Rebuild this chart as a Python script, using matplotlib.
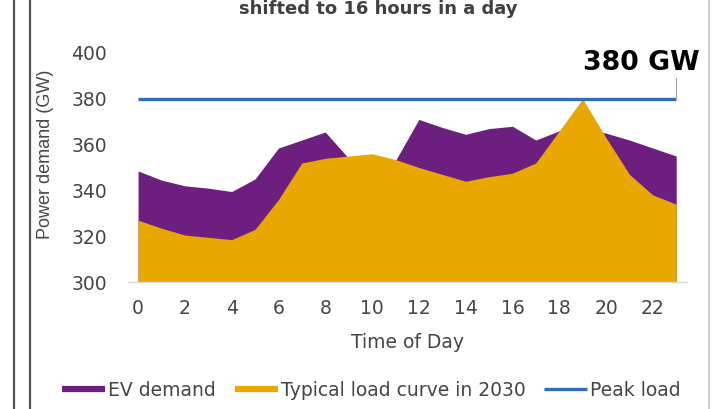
import matplotlib
matplotlib.use("Agg")
from matplotlib import pyplot as plt
from matplotlib.lines import Line2D

plt.rcParams["font.family"] = ["DejaVu Sans"]

# hourly values (GW)
hours = list(range(24))
load_2030 = [327, 323.5, 320.5, 319.5, 318.5, 323, 336, 352, 354, 355, 356, 353.5,
             350, 347, 344, 346, 347.5, 352, 366, 380, 363, 347, 338, 334]
with_ev = [348.5, 344.5, 342, 341, 339.5, 345, 358.5, 362, 365.5, 354, 352, 353,
           371, 367.5, 364.5, 367, 368, 362, 366, 367, 365, 362, 358.5, 355]
peak_load = 380
xticks = list(range(0, 23, 2))
yticks = [300, 320, 340, 360, 380, 400]

purple = "#6d1f80"
yellow = "#e9a800"
blue = "#2f6db5"
grey = "#454545"

fig = plt.figure(figsize=(7.21, 4.09), dpi=100)
W, H = 721, 409
ax = fig.add_axes([128 / W, 1 - 282 / H, (687 - 128) / W, (282 - 53) / H])

ax.fill_between(hours, 300, with_ev, color=purple, lw=0)
ax.fill_between(hours, 300, load_2030, color=yellow, lw=0)
ax.plot(hours, [peak_load] * len(hours), color=blue, lw=2.4, solid_capstyle="butt")

ax.set_xlim(-0.43, 23.46)
ax.set_ylim(300, 400)
ax.set_xticks(xticks)
ax.set_yticks(yticks)
ax.tick_params(axis="both", length=0, labelsize=13.5, labelcolor=grey)
ax.tick_params(axis="y", pad=15)
ax.tick_params(axis="x", pad=12)
for s in ["top", "right", "left"]:
    ax.spines[s].set_visible(False)
ax.spines["bottom"].set_color("#d9d9d9")
ax.spines["bottom"].set_linewidth(1)

ax.set_xlabel("Time of Day", fontsize=13.5, color=grey)
ax.xaxis.set_label_coords(0.5, (282 - 333) / 229)
ax.set_ylabel("Power demand (GW)", fontsize=13, color=grey, family="Liberation Sans")
ax.yaxis.set_label_coords((54 - 128) / 559, (282 - 154) / 229)

# peak annotation with a small leader line
ax.plot([hours[-1], hours[-1]], [peak_load, peak_load + 9], color="#a6a6a6", lw=0.8, clip_on=False)
fig.text(583 / W, 1 - 63 / H, f"{peak_load} GW", fontsize=19.3, fontweight="bold",
         color="black", ha="left", va="center")

# cut-off title at the top
fig.text(378 / W, 1 - 14 / H, "shifted to 16 hours in a day", fontsize=13,
         fontweight="bold", color="#404040", ha="center", va="baseline")

# page border lines
fig.add_artist(Line2D([14 / W, 14 / W], [0, 1], color="#555555", lw=1.6))
fig.add_artist(Line2D([30 / W, 30 / W], [0, 1], color="#555555", lw=1.6))
fig.add_artist(Line2D([709 / W, 709 / W], [0, 1], color="#d0d0d0", lw=1.5))

handles = [Line2D([], [], color=purple, lw=4.5, solid_capstyle="butt"),
           Line2D([], [], color=yellow, lw=4.5, solid_capstyle="butt"),
           Line2D([], [], color=blue, lw=2.4, solid_capstyle="butt")]
labels = ["EV demand", "Typical load curve in 2030", "Peak load"]
fig.legend(handles, labels, loc="center", bbox_to_anchor=((50 + 693) / 2 / W, 1 - 390 / H),
           ncol=3, frameon=False, fontsize=13.5, labelcolor=grey, handlelength=2.3,
           handletextpad=0.16, columnspacing=1.0, borderpad=0)

fig.savefig("out.png", dpi=100)
